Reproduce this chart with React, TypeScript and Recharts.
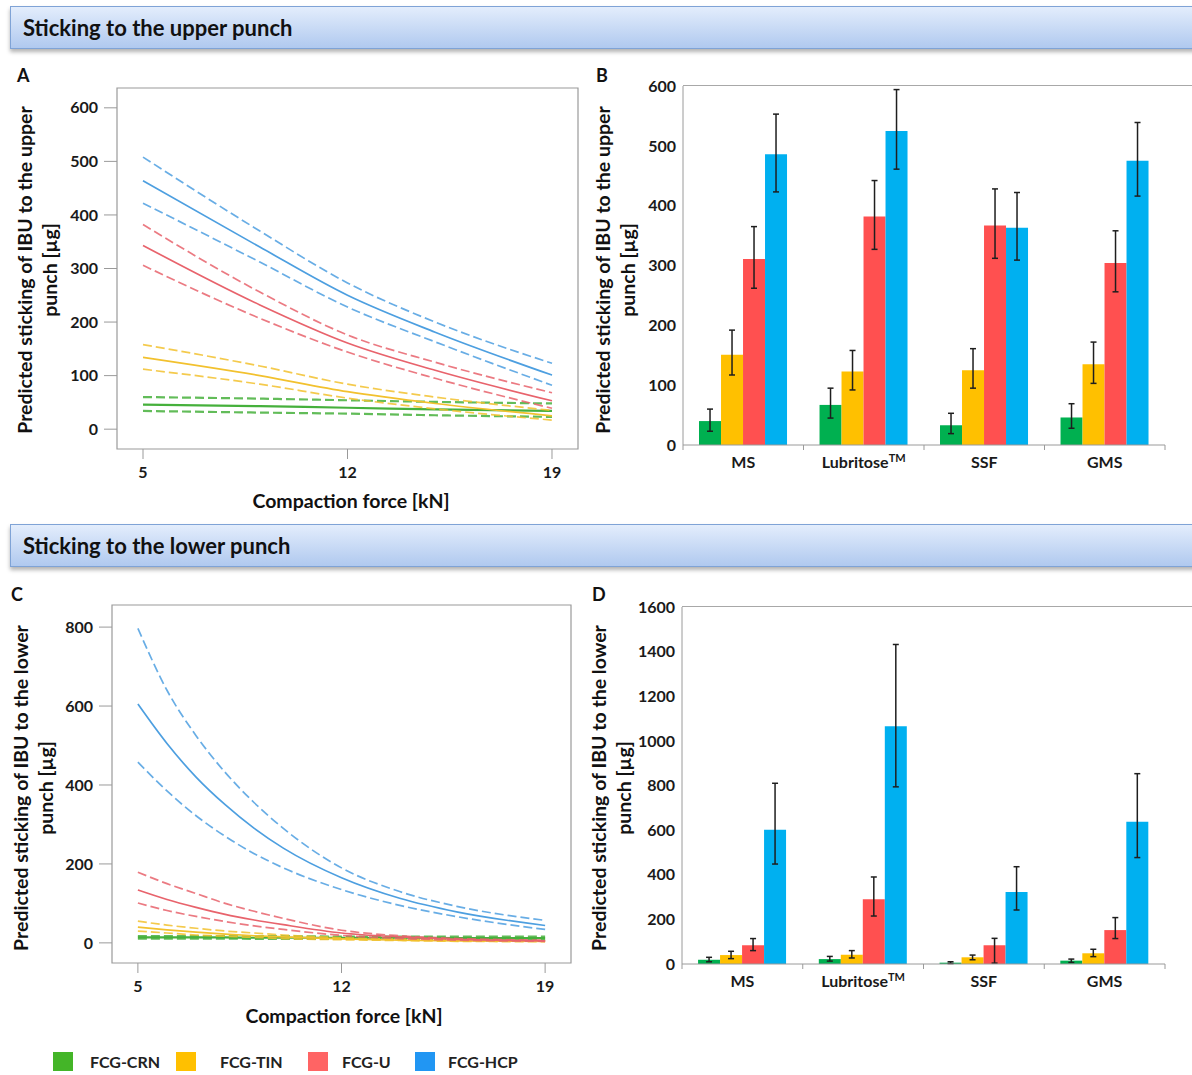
import React from "react";
import {
  LineChart,
  Line,
  XAxis,
  YAxis,
  ReferenceArea,
  BarChart,
  Bar,
  ErrorBar,
} from "recharts";

const FONT = "Lato, 'Open Sans', sans-serif";
const AXIS_GREY = "#9a9a9a";

// formulations, same order everywhere
const GROUPS = ["FCG-CRN", "FCG-TIN", "FCG-U", "FCG-HCP"];
const GROUP_KEYS = ["crn", "tin", "u", "hcp"];
const LINE_COLORS = ["#46b03c", "#f2c12e", "#e8636c", "#4d9fe0"];
const BAR_COLORS = ["#00b050", "#ffc000", "#ff5050", "#00b0f0"];
const LEGEND_COLORS = ["#44b528", "#ffc000", "#ff6464", "#2196f3"];

// ---- model predictions vs compaction force (upper punch) ----
const FORCE_UPPER = [5, 9, 12, 15, 19];
const UPPER_LINES: Record<string, number[]> = {
  crnHi: [60, 57, 54, 51, 48],
  crnMid: [46, 43, 40, 37, 34],
  crnLo: [34, 31, 29, 26, 23],
  tinHi: [158, 118, 84, 60, 35],
  tinMid: [134, 100, 70, 48, 25],
  tinLo: [112, 84, 58, 38, 17],
  uHi: [382, 256, 176, 125, 68],
  uMid: [343, 232, 161, 110, 53],
  uLo: [306, 207, 144, 95, 39],
  hcpHi: [508, 370, 273, 200, 123],
  hcpMid: [464, 340, 250, 181, 101],
  hcpLo: [422, 312, 228, 163, 82],
};

// ---- model predictions vs compaction force (lower punch) ----
const FORCE_LOWER = [5, 6, 7, 8, 9, 10, 12, 14, 16, 19];
const LOWER_LINES: Record<string, number[]> = {
  crnHi: [17, 17, 17, 17, 17, 17, 16, 16, 16, 16],
  crnMid: [14, 14, 14, 14, 13, 13, 13, 13, 12, 12],
  crnLo: [11, 11, 11, 11, 10, 10, 10, 9, 9, 8],
  tinHi: [55, 45, 37, 30, 25, 20, 13, 9, 7, 5],
  tinMid: [40, 33, 27, 22, 18, 15, 10, 7, 5, 4],
  tinLo: [30, 25, 20, 17, 14, 11, 8, 6, 4, 3],
  uHi: [179, 150, 125, 100, 80, 62, 32, 18, 11, 7],
  uMid: [134, 110, 90, 72, 58, 46, 25, 15, 9, 5],
  uLo: [101, 82, 67, 54, 43, 34, 19, 11, 7, 4],
  hcpHi: [797, 640, 525, 432, 355, 290, 190, 130, 92, 57],
  hcpMid: [605, 505, 420, 350, 290, 240, 165, 113, 78, 44],
  hcpLo: [458, 385, 322, 270, 226, 190, 135, 95, 66, 34],
};

// ---- predicted sticking per lubricant ----
const CATEGORIES = ["MS", "Lubritose™", "SSF", "GMS"];

const UPPER_CRN = [40, 67, 33, 46];
const UPPER_CRN_CI = [[23, 60], [45, 95], [19, 53], [28, 69]];
const UPPER_TIN = [151, 123, 125, 135];
const UPPER_TIN_CI = [[117, 192], [92, 158], [95, 161], [103, 172]];
const UPPER_U = [311, 382, 367, 304];
const UPPER_U_CI = [[262, 365], [327, 442], [312, 428], [256, 358]];
const UPPER_HCP = [486, 525, 363, 475];
const UPPER_HCP_CI = [[423, 553], [461, 594], [309, 422], [416, 539]];

const LOWER_CRN = [19, 22, 6, 15];
const LOWER_CRN_CI = [[10, 30], [13, 34], [2, 10], [7, 22]];
const LOWER_TIN = [40, 42, 30, 48];
const LOWER_TIN_CI = [[24, 57], [27, 60], [19, 40], [33, 66]];
const LOWER_U = [84, 290, 84, 152];
const LOWER_U_CI = [[60, 114], [215, 390], [4, 115], [114, 208]];
const LOWER_HCP = [602, 1066, 323, 637];
const LOWER_HCP_CI = [[448, 810], [794, 1432], [242, 436], [477, 853]];

const UPPER_Y_TICKS = [0, 100, 200, 300, 400, 500, 600];
const LOWER_LINE_TICKS = [0, 200, 400, 600, 800];
const LOWER_BAR_TICKS = [0, 200, 400, 600, 800, 1000, 1200, 1400, 1600];
const FORCE_TICKS = [5, 12, 19];

function lineRows(forces: number[], lines: Record<string, number[]>) {
  return forces.map((f, i) => {
    const row: Record<string, number> = { force: f };
    Object.keys(lines).forEach((k) => (row[k] = lines[k][i]));
    return row;
  });
}

function barRows(values: number[][], cis: number[][][]) {
  return CATEGORIES.map((name, i) => {
    const row: Record<string, any> = { name };
    GROUP_KEYS.forEach((k, g) => {
      const v = values[g][i];
      const [lo, hi] = cis[g][i];
      row[k] = v;
      row[k + "Err"] = [v - lo, hi - v];
    });
    return row;
  });
}

const tickStyle = { fontFamily: FONT, fontSize: 16, fontWeight: 700, fill: "#1a1a1a" };

type ForceProps = {
  data: any[];
  yDomain: [number, number];
  yTicks: number[];
  top: number;
  margin: { top: number; right: number; bottom: number; left: number };
};

function ForceChart({ data, yDomain, yTicks, top, margin }: ForceProps) {
  const xDomain: [number, number] = [4.11, 19.89];
  return (
    <div style={{ position: "absolute", left: 0, top }}>
      <LineChart width={600} height={460} data={data} margin={margin}>
        <XAxis
          dataKey="force"
          type="number"
          domain={xDomain}
          ticks={FORCE_TICKS}
          allowDataOverflow
          height={30}
          tickSize={10}
          tickMargin={8}
          axisLine={false}
          tickLine={{ stroke: AXIS_GREY }}
          tick={tickStyle}
        />
        <YAxis
          type="number"
          domain={yDomain}
          ticks={yTicks}
          allowDataOverflow
          width={60}
          tickSize={13}
          tickMargin={6}
          axisLine={false}
          tickLine={{ stroke: AXIS_GREY }}
          tick={tickStyle}
        />
        <ReferenceArea
          x1={xDomain[0]}
          x2={xDomain[1]}
          y1={yDomain[0]}
          y2={yDomain[1]}
          fill="none"
          stroke={AXIS_GREY}
          strokeWidth={1.2}
          ifOverflow="visible"
        />
        {GROUP_KEYS.map((k, g) =>
          ["Hi", "Mid", "Lo"].map((part) => (
            <Line
              key={k + part}
              dataKey={k + part}
              type="monotone"
              stroke={LINE_COLORS[g]}
              strokeWidth={k === "crn" ? 2.2 : 1.7}
              strokeDasharray={part === "Mid" ? undefined : "9 4"}
              strokeOpacity={part === "Mid" ? 1 : 0.85}
              dot={false}
              isAnimationActive={false}
            />
          ))
        )}
      </LineChart>
    </div>
  );
}

function makeCategoryTick(bandWidth: number) {
  return (props: any) => {
    const { x, y, payload, index } = props;
    const label: string = payload.value;
    const tm = label.endsWith("™");
    const base = tm ? label.slice(0, -1) : label;
    const last = index === CATEGORIES.length - 1;
    return (
      <g>
        <line x1={x - bandWidth / 2} x2={x - bandWidth / 2} y1={y} y2={y + 5} stroke={AXIS_GREY} />
        {last && <line x1={x + bandWidth / 2} x2={x + bandWidth / 2} y1={y} y2={y + 5} stroke={AXIS_GREY} />}
        <text x={x} y={y + 23} textAnchor="middle" style={tickStyle}>
          {base}
          {tm && (
            <tspan dy={-6} fontSize={11}>
              TM
            </tspan>
          )}
        </text>
      </g>
    );
  };
}

type BarProps = {
  data: any[];
  yMax: number;
  yTicks: number[];
  top: number;
  margin: { top: number; right: number; bottom: number; left: number };
};

function LubricantChart({ data, yMax, yTicks, top, margin }: BarProps) {
  const width = 592;
  const yAxisWidth = 50;
  const bandWidth = (width - margin.left - margin.right - yAxisWidth) / CATEGORIES.length;
  return (
    <div style={{ position: "absolute", left: 600, top }}>
      <div
        style={{
          position: "absolute",
          left: margin.left + yAxisWidth,
          top: margin.top - 1,
          width: width - margin.left - yAxisWidth,
          height: 1,
          background: "#a8a8a8",
        }}
      />
      <BarChart
        width={width}
        height={430}
        data={data}
        margin={margin}
        barCategoryGap="13.3%"
        barGap={0}
      >
        <XAxis
          dataKey="name"
          height={30}
          tickSize={0}
          tickMargin={0}
          tickLine={false}
          axisLine={{ stroke: AXIS_GREY }}
          tick={makeCategoryTick(bandWidth)}
          interval={0}
        />
        <YAxis
          type="number"
          domain={[0, yMax]}
          ticks={yTicks}
          width={yAxisWidth}
          tickSize={0}
          tickMargin={7}
          tickLine={false}
          axisLine={{ stroke: AXIS_GREY }}
          tick={tickStyle}
        />
        {GROUP_KEYS.map((k, g) => (
          <Bar key={k} dataKey={k} fill={BAR_COLORS[g]} isAnimationActive={false}>
            <ErrorBar
              dataKey={k + "Err"}
              width={3}
              stroke="#1e1e1e"
              strokeWidth={1.5}
              direction="y"
              isAnimationActive={false}
            />
          </Bar>
        ))}
      </BarChart>
    </div>
  );
}

function Banner({ top, text }: { top: number; text: string }) {
  return (
    <div
      style={{
        position: "absolute",
        left: 10,
        top,
        width: 1200,
        height: 43,
        boxSizing: "border-box",
        border: "1px solid #7fa3d6",
        background: "linear-gradient(#e3edfc, #b0c9ef)",
        boxShadow: "0 3px 4px rgba(0,0,0,0.3)",
        paddingLeft: 12,
        lineHeight: "41px",
        fontFamily: FONT,
        fontWeight: 700,
        fontSize: 22,
        color: "#111",
      }}
    >
      {text}
    </div>
  );
}

function PanelLetter({ left, top, text }: { left: number; top: number; text: string }) {
  return (
    <div
      style={{
        position: "absolute",
        left,
        top,
        fontFamily: FONT,
        fontWeight: 700,
        fontSize: 18,
        color: "#111",
      }}
    >
      {text}
    </div>
  );
}

function YTitle({ cx, cy, lines }: { cx: number; cy: number; lines: string[] }) {
  return (
    <div
      style={{
        position: "absolute",
        left: cx,
        top: cy,
        transform: "translate(-50%, -50%) rotate(-90deg)",
        whiteSpace: "nowrap",
        textAlign: "center",
        fontFamily: FONT,
        fontWeight: 700,
        fontSize: 19.5,
        lineHeight: "25px",
        color: "#111",
      }}
    >
      {lines.map((l) => (
        <div key={l}>{l}</div>
      ))}
    </div>
  );
}

function XTitle({ cx, cy, text }: { cx: number; cy: number; text: string }) {
  return (
    <div
      style={{
        position: "absolute",
        left: cx,
        top: cy,
        transform: "translate(-50%, -50%)",
        whiteSpace: "nowrap",
        fontFamily: FONT,
        fontWeight: 700,
        fontSize: 19.5,
        color: "#111",
      }}
    >
      {text}
    </div>
  );
}

// legend swatch and label positions
const LEGEND_SWATCH_X = [53, 176, 308, 415];
const LEGEND_TEXT_X = [90, 220, 342, 448];

export default function App() {
  const upperLines = lineRows(FORCE_UPPER, UPPER_LINES);
  const lowerLines = lineRows(FORCE_LOWER, LOWER_LINES);
  const upperBars = barRows(
    [UPPER_CRN, UPPER_TIN, UPPER_U, UPPER_HCP],
    [UPPER_CRN_CI, UPPER_TIN_CI, UPPER_U_CI, UPPER_HCP_CI]
  );
  const lowerBars = barRows(
    [LOWER_CRN, LOWER_TIN, LOWER_U, LOWER_HCP],
    [LOWER_CRN_CI, LOWER_TIN_CI, LOWER_U_CI, LOWER_HCP_CI]
  );
  const upperTitle = ["Predicted sticking of IBU to the upper", "punch [µg]"];
  const lowerTitle = ["Predicted sticking of IBU to the lower", "punch [µg]"];

  return (
    <div
      style={{
        position: "absolute",
        left: 0,
        top: 0,
        width: 1192,
        height: 1075,
        overflow: "hidden",
        background: "#fff",
      }}
    >
      <Banner top={6} text="Sticking to the upper punch" />
      <PanelLetter left={17} top={64} text="A" />
      <PanelLetter left={596} top={64} text="B" />
      <YTitle cx={37} cy={270} lines={upperTitle} />
      <YTitle cx={615} cy={270} lines={upperTitle} />
      <ForceChart
        data={upperLines}
        yDomain={[-37, 637]}
        yTicks={UPPER_Y_TICKS}
        top={60}
        margin={{ top: 28, right: 22, bottom: 41, left: 57 }}
      />
      <XTitle cx={351} cy={500} text="Compaction force [kN]" />
      <LubricantChart
        data={upperBars}
        yMax={600}
        yTicks={UPPER_Y_TICKS}
        top={60}
        margin={{ top: 26, right: 27, bottom: 15, left: 33 }}
      />

      <Banner top={524} text="Sticking to the lower punch" />
      <PanelLetter left={11} top={583} text="C" />
      <PanelLetter left={592} top={583} text="D" />
      <YTitle cx={33} cy={788} lines={lowerTitle} />
      <YTitle cx={611} cy={788} lines={lowerTitle} />
      <ForceChart
        data={lowerLines}
        yDomain={[-51, 856]}
        yTicks={LOWER_LINE_TICKS}
        top={580}
        margin={{ top: 25, right: 29, bottom: 47, left: 52 }}
      />
      <XTitle cx={344} cy={1015} text="Compaction force [kN]" />
      <LubricantChart
        data={lowerBars}
        yMax={1600}
        yTicks={LOWER_BAR_TICKS}
        top={580}
        margin={{ top: 27, right: 27, bottom: 16, left: 32 }}
      />

      {GROUPS.map((name, g) => (
        <React.Fragment key={name}>
          <div
            style={{
              position: "absolute",
              left: LEGEND_SWATCH_X[g],
              top: 1052,
              width: 20,
              height: 19,
              background: LEGEND_COLORS[g],
            }}
          />
          <div
            style={{
              position: "absolute",
              left: LEGEND_TEXT_X[g],
              top: 1052,
              lineHeight: "20px",
              fontFamily: FONT,
              fontWeight: 700,
              fontSize: 16,
              color: "#222",
            }}
          >
            {name}
          </div>
        </React.Fragment>
      ))}
    </div>
  );
}
